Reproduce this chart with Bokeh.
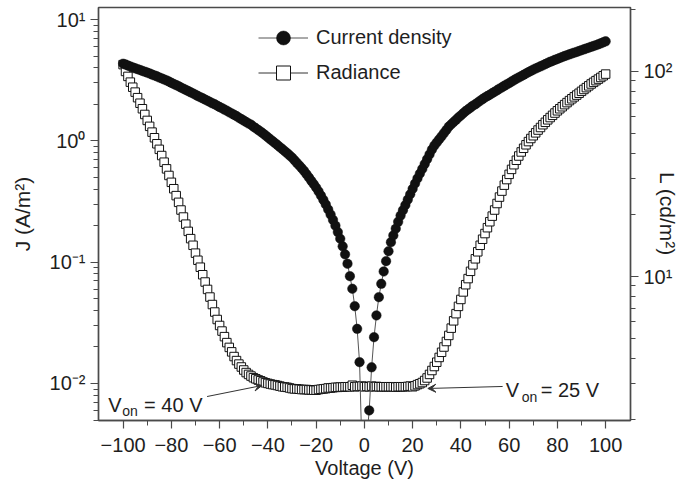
import math
from bokeh.plotting import figure
from bokeh.models import (Range1d, LogScale, LogAxis, FixedTicker, Legend,
                          LegendItem, Label, Arrow, VeeHead)
from bokeh.embed import file_html
from bokeh.resources import INLINE

# ---------------- data ----------------
voltage = list(range(-100, 101))

current_density = [
    4.32, 4.25, 4.17, 4.10, 4.03, 3.96, 3.90, 3.84, 3.77, 3.71,        # -100..-91
    3.65, 3.59, 3.52, 3.46, 3.40, 3.33, 3.27, 3.21, 3.15, 3.08,        # -90..-81
    3.01, 2.94, 2.88, 2.82, 2.75, 2.69, 2.63, 2.57, 2.51, 2.46,        # -80..-71
    2.40, 2.34, 2.29, 2.24, 2.19, 2.14, 2.09, 2.04, 2.00, 1.95,        # -70..-61
    1.90, 1.86, 1.81, 1.77, 1.72, 1.68, 1.64, 1.60, 1.55, 1.51,        # -60..-51
    1.47, 1.43, 1.39, 1.36, 1.31, 1.27, 1.23, 1.19, 1.15, 1.11,        # -50..-41
    1.07, 1.03, 0.993, 0.957, 0.923, 0.887, 0.855, 0.822, 0.791, 0.759,  # -40..-31
    0.729, 0.693, 0.659, 0.627, 0.596, 0.565, 0.531, 0.499, 0.468, 0.440,  # -30..-21
    0.412, 0.383, 0.354, 0.326, 0.299, 0.272, 0.247, 0.223, 0.200, 0.177,  # -20..-11
    0.156, 0.135, 0.116, 0.0971, 0.0767, 0.0604, 0.0434, 0.0282, 0.0150, 0.00282,  # -10..-1
    0.0006, 0.00355, 0.0060, 0.0136, 0.0241, 0.0364, 0.0515, 0.0663, 0.0838, 0.102,  # 0..9
    0.123, 0.146, 0.166, 0.189, 0.215, 0.242, 0.268, 0.296, 0.328, 0.363,  # 10..19
    0.402, 0.445, 0.490, 0.537, 0.587, 0.644, 0.706, 0.773, 0.847, 0.914,  # 20..29
    0.970, 1.03, 1.09, 1.16, 1.23, 1.31, 1.37, 1.43, 1.49, 1.56,       # 30..39
    1.62, 1.69, 1.76, 1.82, 1.88, 1.95, 2.00, 2.07, 2.14, 2.21,        # 40..49
    2.28, 2.34, 2.40, 2.47, 2.54, 2.61, 2.69, 2.76, 2.84, 2.92,        # 50..59
    2.99, 3.08, 3.16, 3.25, 3.33, 3.41, 3.50, 3.59, 3.68, 3.77,        # 60..69
    3.86, 3.95, 4.03, 4.11, 4.20, 4.29, 4.39, 4.48, 4.56, 4.65,        # 70..79
    4.73, 4.82, 4.91, 5.00, 5.08, 5.16, 5.25, 5.33, 5.41, 5.50,        # 80..89
    5.59, 5.68, 5.77, 5.86, 5.96, 6.05, 6.15, 6.25, 6.37, 6.49,        # 90..99
    6.61,                                                              # 100
]

radiance = [
    108, 100, 94.6, 88.7, 83.8, 79.3, 74.5, 70.0, 65.8, 61.7,          # -100..-91
    57.7, 54.0, 50.6, 47.5, 44.4, 41.7, 38.9, 36.1, 33.5, 31.1,        # -90..-81
    28.8, 26.8, 24.8, 23.0, 21.1, 19.5, 18.0, 16.6, 15.3, 14.2,        # -80..-71
    13.0, 12.0, 11.1, 10.2, 9.40, 8.65, 7.94, 7.30, 6.71, 6.17,        # -70..-61
    5.77, 5.42, 5.09, 4.76, 4.51, 4.29, 4.07, 3.89, 3.74, 3.62,        # -60..-51
    3.50, 3.40, 3.33, 3.27, 3.21, 3.17, 3.13, 3.10, 3.06, 3.03,        # -50..-41
    3.01, 2.99, 2.97, 2.96, 2.94, 2.92, 2.90, 2.89, 2.88, 2.86,        # -40..-31
    2.84, 2.83, 2.83, 2.82, 2.81, 2.81, 2.81, 2.80, 2.80, 2.79,        # -30..-21
    2.79, 2.81, 2.82, 2.83, 2.84, 2.86, 2.86, 2.87, 2.88, 2.88,        # -20..-11
    2.89, 2.89, 2.90, 2.90, 2.90, 2.95, 2.90, 2.91, 2.91, 2.92,        # -10..-1
    2.90, 2.91, 2.90, 2.92, 2.90, 2.91, 2.90, 2.90, 2.90, 2.90,        # 0..9
    2.90, 2.90, 2.90, 2.89, 2.90, 2.90, 2.90, 2.90, 2.91, 2.92,        # 10..19
    2.90, 2.93, 2.97, 3.00, 3.04, 3.11, 3.20, 3.33, 3.48, 3.64,        # 20..29
    3.82, 4.03, 4.27, 4.53, 4.82, 5.16, 5.60, 6.08, 6.59, 7.15,        # 30..39
    7.73, 8.41, 9.12, 9.77, 10.6, 11.4, 12.2, 13.2, 14.2, 15.2,        # 40..49
    16.2, 17.3, 18.5, 19.7, 21.1, 22.7, 24.4, 26.1, 27.9, 29.7,        # 50..59
    31.5, 33.3, 35.1, 36.9, 38.7, 40.5, 42.2, 43.9, 45.5, 47.1,        # 60..69
    48.6, 50.2, 51.8, 53.3, 55.0, 56.5, 58.1, 59.6, 61.1, 62.7,        # 70..79
    64.3, 65.8, 67.3, 68.9, 70.5, 72.1, 73.6, 75.2, 76.7, 78.3,        # 80..89
    80.0, 81.7, 83.4, 85.1, 86.9, 88.5, 90.2, 91.8, 93.5, 95.3,        # 90..99
    97.1,                                                              # 100
]

x_ticks = [-100, -80, -60, -40, -20, 0, 20, 40, 60, 80, 100]
x_tick_labels = ["\u2212100", "\u221280", "\u221260", "\u221240", "\u221220",
                 "0", "20", "40", "60", "80", "100"]
j_ticks = [0.01, 0.1, 1, 10]
j_tick_labels = ["10\u207b\u00b2", "10\u207b\u00b9", "10\u2070", "10\u00b9"]
l_ticks = [10, 100]
l_tick_labels = ["10\u00b9", "10\u00b2"]

series_labels = ["Current density", "Radiance"]
x_title = "Voltage (V)"
j_title = "J (A/m\u00b2)"
l_title = "L (cd/m\u00b2)"

# ---------------- figure ----------------
FONT = "Liberation Sans"
TXT = "#1e1e1e"
AX = "#4a4a4a"

p = figure(width=682, height=486, output_backend="svg", toolbar_location=None,
           x_range=Range1d(-110.2, 110.3), y_range=Range1d(0.004955, 12.56),
           y_axis_type="log",
           min_border_left=98, min_border_right=51, min_border_top=7,
           min_border_bottom=66)
p.background_fill_color = "white"
p.border_fill_color = "white"
p.outline_line_color = AX
p.outline_line_width = 1.4
p.xgrid.visible = False
p.ygrid.visible = False

p.extra_y_ranges = {"L": Range1d(1.985, 205.1)}
p.extra_y_scales = {"L": LogScale()}

def style_axis(ax):
    ax.axis_line_color = AX
    ax.axis_line_width = 1.4
    ax.major_tick_line_color = AX
    ax.minor_tick_line_color = AX
    ax.major_tick_line_width = 1.2
    ax.minor_tick_line_width = 1.0
    ax.major_tick_in = 0
    ax.major_tick_out = 8
    ax.minor_tick_in = 0
    ax.minor_tick_out = 5
    ax.major_label_text_font = FONT
    ax.major_label_text_font_size = "20px"
    ax.major_label_text_color = TXT
    ax.axis_label_text_font = FONT
    ax.axis_label_text_font_size = "20px"
    ax.axis_label_text_font_style = "normal"
    ax.axis_label_text_color = TXT

# bottom axis
xa = p.xaxis[0]
style_axis(xa)
xa.ticker = FixedTicker(ticks=x_ticks, minor_ticks=[v + 10 for v in x_ticks[:-1]])
xa.major_label_overrides = dict(zip(x_ticks, x_tick_labels))
xa.major_label_standoff = 9
xa.axis_label = x_title
xa.axis_label_standoff = 2

# left axis
ya = p.yaxis[0]
style_axis(ya)
ya.ticker = FixedTicker(ticks=j_ticks,
                        minor_ticks=[m * 10.0 ** d for d in range(-3, 2) for m in range(2, 10)])
ya.major_label_overrides = dict(zip(j_ticks, j_tick_labels))
ya.major_label_standoff = 5
ya.axis_label = j_title
ya.axis_label_standoff = 13
ya.axis_label_text_font_size = "21px"

# right axis
ra = LogAxis(y_range_name="L")
style_axis(ra)
ra.ticker = FixedTicker(ticks=l_ticks,
                        minor_ticks=[m * 10.0 ** d for d in range(0, 3) for m in range(2, 10)])
ra.major_label_overrides = dict(zip(l_ticks, l_tick_labels))
ra.major_label_standoff = 5
ra.axis_label = l_title
ra.axis_label_standoff = -19
ra.axis_label_text_font_size = "21px"
p.add_layout(ra, "right")

# ---------------- data renderers ----------------
l_line = p.line(voltage, radiance, y_range_name="L", line_color="#333333", line_width=1)
l_pts = p.scatter(voltage, radiance, y_range_name="L", marker="square", size=8.5,
                  fill_color="white", line_color="#111111", line_width=1)
j_line = p.line(voltage, current_density, line_color="#555555", line_width=1)
j_pts = p.scatter(voltage, current_density, marker="circle", size=9.5,
                  fill_color="#111111", line_color="#111111", line_width=0.5)

legend = Legend(items=[LegendItem(label=series_labels[0], renderers=[j_line, j_pts]),
                       LegendItem(label=series_labels[1], renderers=[l_line, l_pts])],
                location=(160, 330), glyph_width=50, glyph_height=35, label_height=35,
                spacing=0, padding=0, margin=0, label_standoff=8,
                border_line_color=None, background_fill_alpha=0,
                label_text_font=FONT, label_text_font_size="20px", label_text_color=TXT)
p.add_layout(legend)

# annotations
def von(x_v, y_j, x_on, y_on, x_rest, text_rest):
    p.add_layout(Label(x=x_v, y=y_j, text="V", text_font=FONT, text_font_size="20px",
                       text_color=TXT, text_baseline="alphabetic"))
    p.add_layout(Label(x=x_on, y=y_on, text="on", text_font=FONT, text_font_size="14px",
                       text_color=TXT, text_baseline="alphabetic"))
    p.add_layout(Label(x=x_rest, y=y_j, text=text_rest, text_font=FONT,
                       text_font_size="20px", text_color=TXT, text_baseline="alphabetic"))

von(-106.2, 0.00659, -100.4, 0.00598, -91.3, "= 40 V")
von(58.6, 0.00876, 65.2, 0.00767, 73.1, "= 25 V")

p.add_layout(Arrow(end=VeeHead(size=8, fill_color="#333333", line_color="#333333", line_width=1),
                   x_start=-65.2, y_start=0.00781, x_end=-42.4, y_end=0.00963,
                   line_color="#333333", line_width=1))
p.add_layout(Arrow(end=VeeHead(size=8, fill_color="#333333", line_color="#333333", line_width=1),
                   x_start=57.3, y_start=0.00945, x_end=26.3, y_end=0.0091,
                   line_color="#333333", line_width=1))

open("out.html", "w").write(file_html(p, INLINE))
